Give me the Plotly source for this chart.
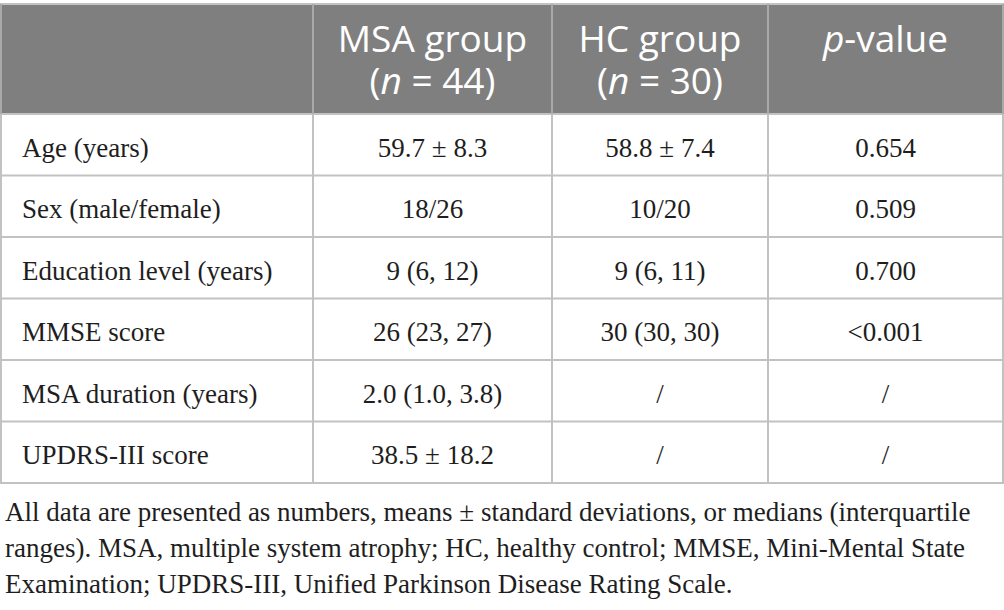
import plotly.graph_objects as go

# table content
headers = ["", "MSA group<br>(<i>n</i> = 44)", "HC group<br>(<i>n</i> = 30)", "<i>p</i>-value"]
variables = ["Age (years)", "Sex (male/female)", "Education level (years)",
             "MMSE score", "MSA duration (years)", "UPDRS-III score"]
msa_group = ["59.7 ± 8.3", "18/26", "9 (6, 12)", "26 (23, 27)", "2.0 (1.0, 3.8)", "38.5 ± 18.2"]
hc_group = ["58.8 ± 7.4", "10/20", "9 (6, 11)", "30 (30, 30)", "/", "/"]
p_values = ["0.654", "0.509", "0.700", "<0.001", "/", "/"]
footnote = ["All data are presented as numbers, means ± standard deviations, or medians (interquartile",
            "ranges). MSA, multiple system atrophy; HC, healthy control; MMSE, Mini-Mental State",
            "Examination; UPDRS-III, Unified Parkinson Disease Rating Scale."]

# geometry (pixel-like axis units)
W, H = 1004, 610
col_edges = [1, 313, 552, 768, 1003]
top, head_bot, tab_bot = 4, 114, 483
n_rows = len(variables)
row_h = (tab_bot - head_bot) / n_rows
row_edges = [head_bot + i * row_h for i in range(n_rows + 1)]
col_mid = [(col_edges[i] + col_edges[i + 1]) / 2 for i in range(len(col_edges) - 1)]
row_mid = [(row_edges[i] + row_edges[i + 1]) / 2 + 5 for i in range(n_rows)]

grid = "#c2c2c2"
head_fill = "#7f7f7f"
txt = "#1e1e1e"
serif = "Liberation Serif, Times New Roman, serif"
sans = "Open Sans, Noto Sans, sans-serif"

fig = go.Figure()

# header background and grid
fig.add_shape(type="rect", x0=0, x1=W, y0=top, y1=head_bot, fillcolor=head_fill,
              line_width=0, layer="below")
for y in [top] + row_edges:
    fig.add_shape(type="line", x0=0, x1=W, y0=y, y1=y, line=dict(color=grid, width=2))
for x in col_edges:
    fig.add_shape(type="line", x0=x, x1=x, y0=top, y1=head_bot, line=dict(color="#a9a9a9", width=2))
    fig.add_shape(type="line", x0=x, x1=x, y0=head_bot, y1=tab_bot, line=dict(color=grid, width=2))

# header text, one trace per header line
head_lines = [h.split("<br>") for h in headers]
line_y = [43, 85]
for k in range(2):
    xs, ys, ts = [], [], []
    for i, parts in enumerate(head_lines):
        if k < len(parts) and parts[k]:
            xs.append(col_mid[i])
            ys.append(line_y[k])
            ts.append(parts[k])
    fig.add_trace(go.Scatter(x=xs, y=ys, text=ts, mode="text", textposition="middle center",
                             textfont=dict(family=sans, size=37, color="white"),
                             hoverinfo="skip", showlegend=False))

# body text
fig.add_trace(go.Scatter(x=[col_edges[0] + 21] * n_rows, y=row_mid, text=variables, mode="text",
                         textposition="middle right",
                         textfont=dict(family=serif, size=27, color=txt),
                         hoverinfo="skip", showlegend=False))
for j, col in enumerate([msa_group, hc_group, p_values]):
    fig.add_trace(go.Scatter(x=[col_mid[j + 1]] * n_rows, y=row_mid, text=col, mode="text",
                             textposition="middle center",
                             textfont=dict(family=serif, size=27, color=txt),
                             hoverinfo="skip", showlegend=False))

# footnote
fig.add_trace(go.Scatter(x=[5] * len(footnote), y=[514 + 36 * i for i in range(len(footnote))],
                         text=footnote, mode="text", textposition="middle right",
                         textfont=dict(family=serif, size=27, color=txt),
                         hoverinfo="skip", showlegend=False))

fig.update_xaxes(range=[0, W], visible=False, fixedrange=True)
fig.update_yaxes(range=[H, 0], visible=False, fixedrange=True)
fig.update_layout(width=W, height=H, margin=dict(l=0, r=0, t=0, b=0),
                  plot_bgcolor="white", paper_bgcolor="white")

fig.write_html("out.html", config={"displayModeBar": False},
               post_script="document.body.style.margin='0';")
